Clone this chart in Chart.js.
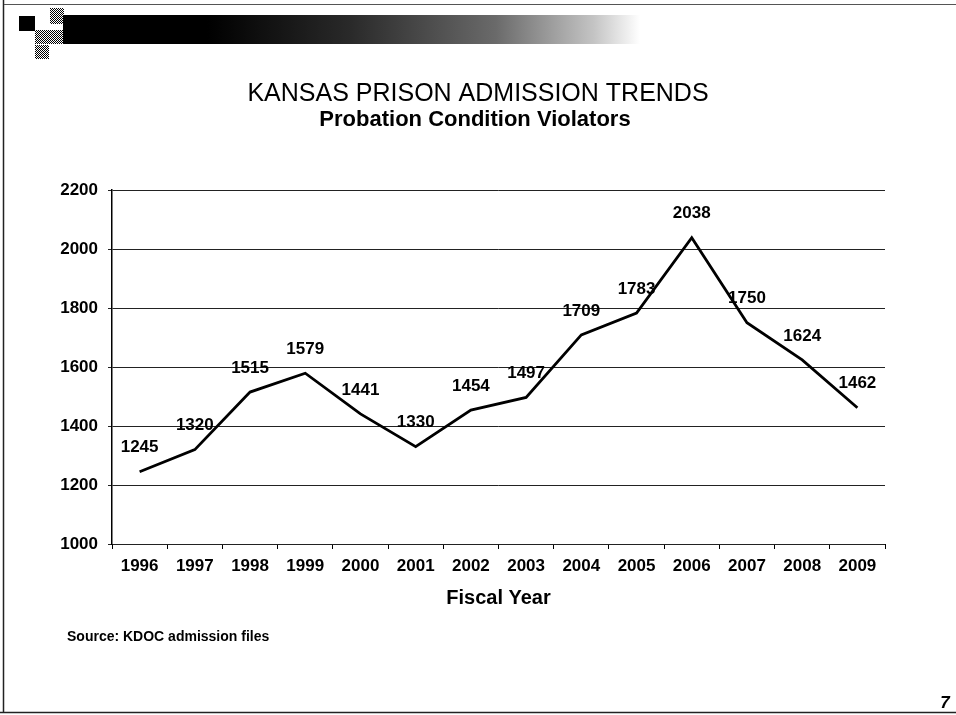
<!DOCTYPE html>
<html>
<head>
<meta charset="utf-8">
<script src="https://cdn.jsdelivr.net/npm/chart.js@4/dist/chart.umd.min.js"></script>
<style>
  html, body { margin: 0; padding: 0; background: #fff; }
  #admissions { display: block; }
</style>
</head>
<body>
<canvas id="admissions" width="956" height="715"></canvas>
<script>
// fiscal years and probation condition violator admissions
const years = ["1996", "1997", "1998", "1999", "2000", "2001", "2002",
               "2003", "2004", "2005", "2006", "2007", "2008", "2009"];
const violators = [1245, 1320, 1515, 1579, 1441, 1330, 1454,
                   1497, 1709, 1783, 2038, 1750, 1624, 1462];
const yTicks = [1000, 1200, 1400, 1600, 1800, 2000, 2200];

const fontFam = "'Liberation Sans', Arial, sans-serif";

// slide background, header bar, titles and footer
const slidePlugin = {
    id: "slide",
    beforeDraw: (chart) => {
        const ctx = chart.ctx;
        ctx.save();
        ctx.fillStyle = "#fff";
        ctx.fillRect(0, 0, chart.width, chart.height);

        // frame lines
        ctx.strokeStyle = "#222";
        ctx.lineWidth = 1.5;
        ctx.beginPath();
        ctx.moveTo(3.5, 0); ctx.lineTo(3.5, 713);
        ctx.moveTo(0, 712.5); ctx.lineTo(956, 712.5);
        ctx.stroke();
        ctx.lineWidth = 1;
        ctx.strokeStyle = "#555";
        ctx.beginPath();
        ctx.moveTo(4, 4.5); ctx.lineTo(956, 4.5);
        ctx.stroke();

        // dithered little squares
        const pc = document.createElement("canvas");
        pc.width = 2; pc.height = 2;
        const pctx = pc.getContext("2d");
        pctx.fillStyle = "#000";
        pctx.fillRect(0, 0, 1, 1);
        pctx.fillRect(1, 1, 1, 1);
        const dither = ctx.createPattern(pc, "repeat");
        ctx.fillStyle = dither;
        ctx.fillRect(50, 8, 14, 16);
        ctx.fillRect(35, 30, 28, 14);
        ctx.fillRect(35, 45, 14, 14);

        ctx.fillStyle = "#000";
        ctx.fillRect(19, 16, 16, 15);

        // header bar fading to white
        const grad = ctx.createLinearGradient(63, 0, 640, 0);
        grad.addColorStop(0, "#000");
        grad.addColorStop(0.25, "#000");
        grad.addColorStop(0.5, "#2a2a2a");
        grad.addColorStop(0.75, "#6a6a6a");
        grad.addColorStop(0.92, "#c4c4c4");
        grad.addColorStop(1, "#fff");
        ctx.fillStyle = grad;
        ctx.fillRect(63, 15, 577, 29);

        // titles
        ctx.fillStyle = "#000";
        ctx.textAlign = "center";
        ctx.textBaseline = "middle";
        ctx.font = `25px ${fontFam}`;
        ctx.fillText("KANSAS PRISON ADMISSION TRENDS", 478, 94);
        ctx.font = `bold 22px ${fontFam}`;
        ctx.fillText("Probation Condition Violators", 475, 120);

        // footer
        ctx.textAlign = "left";
        ctx.font = `bold 14px ${fontFam}`;
        ctx.fillText("Source: KDOC admission files", 67, 637);
        ctx.textAlign = "center";
        ctx.font = `italic bold 17px ${fontFam}`;
        ctx.fillText("7", 945, 703);
        ctx.restore();
    }
};

// value written above every point
const valueLabels = {
    id: "valueLabels",
    afterDatasetsDraw: (chart) => {
        const ctx = chart.ctx;
        const meta = chart.getDatasetMeta(0);
        ctx.save();
        ctx.fillStyle = "#000";
        ctx.font = `bold 17px ${fontFam}`;
        ctx.textAlign = "center";
        ctx.textBaseline = "middle";
        meta.data.forEach((pt, i) => {
            ctx.fillText(String(violators[i]), pt.x, pt.y - 24);
        });
        ctx.restore();
    }
};

const admissionsChart = new Chart(
    document.getElementById("admissions"), {
        type: "line",
        data: {
            labels: years,
            datasets: [{
                label: "Probation Condition Violators",
                data: violators,
                borderColor: "#000",
                borderWidth: 2.8,
                pointRadius: 0,
                tension: 0,
                fill: false
            }]
        },
        options: {
            responsive: false,
            animation: false,
            layout: {
                padding: { left: 0, right: 71, top: 190, bottom: 105 }
            },
            plugins: {
                legend: { display: false },
                tooltip: { enabled: false }
            },
            scales: {
                x: {
                    offset: true,
                    grid: {
                        offset: true,
                        drawOnChartArea: false,
                        drawTicks: true,
                        tickLength: 5,
                        color: "#000"
                    },
                    border: { display: false },
                    ticks: {
                        color: "#000",
                        padding: 7,
                        maxRotation: 0,
                        font: { family: fontFam, size: 17, weight: "bold" }
                    },
                    title: {
                        display: true,
                        text: "Fiscal Year",
                        color: "#000",
                        padding: 0,
                        font: { family: fontFam, size: 20, weight: "bold" }
                    },
                    afterFit: (scale) => { scale.height = 66; }
                },
                y: {
                    min: 1000,
                    max: 2200,
                    afterBuildTicks: (scale) => {
                        scale.ticks = yTicks.map(v => ({ value: v }));
                    },
                    grid: {
                        color: "#222",
                        lineWidth: 1,
                        tickLength: 4
                    },
                    border: { display: true, color: "#000", width: 1.5 },
                    ticks: {
                        color: "#000",
                        padding: 10,
                        callback: (v) => String(v),
                        font: { family: fontFam, size: 17, weight: "bold" }
                    },
                    afterFit: (scale) => { scale.width = 112; }
                }
            }
        },
        plugins: [slidePlugin, valueLabels]
    }
);
</script>
</body>
</html>
